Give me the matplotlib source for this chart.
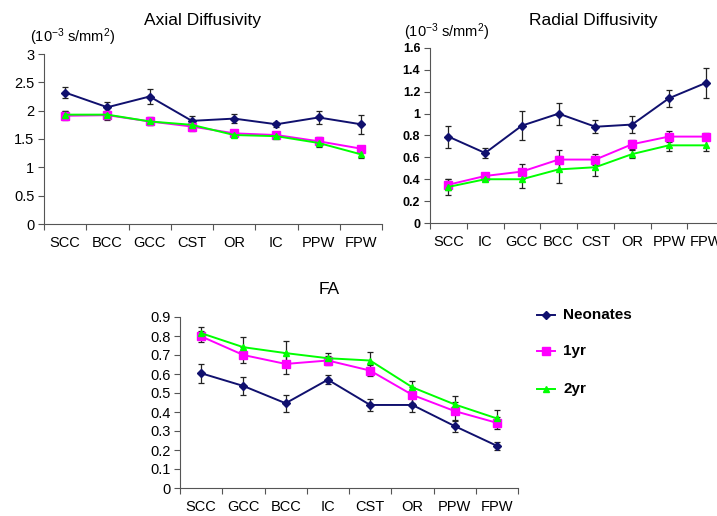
import matplotlib
matplotlib.use("Agg")
import matplotlib.pyplot as plt
import numpy as np

plt.rcParams['font.family'] = ['Liberation Sans', 'DejaVu Sans']
plt.rcParams['mathtext.fontset'] = 'custom'
plt.rcParams['mathtext.rm'] = 'Liberation Sans'
plt.rcParams['mathtext.it'] = 'Liberation Sans'

SERIES = ["Neonates", "1yr", "2yr"]
COLORS = ["#10106e", "#ff00ff", "#00ff00"]
MARKERS = ["D", "s", "^"]
MSIZES = [4, 6, 4]

# Axial diffusivity
ad_labels = ["SCC", "BCC", "GCC", "CST", "OR", "IC", "PPW", "FPW"]
ad_neo = [2.32, 2.06, 2.25, 1.82, 1.86, 1.76, 1.88, 1.76]
ad_neo_err = [0.10, 0.10, 0.13, 0.08, 0.08, 0.04, 0.12, 0.17]
ad_1yr = [1.91, 1.92, 1.81, 1.72, 1.60, 1.57, 1.46, 1.33]
ad_1yr_err = [0.08, 0.08, 0.07, 0.07, 0.04, 0.03, 0.08, 0.05]
ad_2yr = [1.93, 1.93, 1.81, 1.75, 1.57, 1.55, 1.43, 1.23]
ad_2yr_err = [0.07, 0.06, 0.06, 0.06, 0.04, 0.03, 0.07, 0.07]

# Radial diffusivity
rd_labels = ["SCC", "IC", "GCC", "BCC", "CST", "OR", "PPW", "FPW"]
rd_neo = [0.79, 0.64, 0.89, 1.00, 0.88, 0.90, 1.14, 1.28]
rd_neo_err = [0.10, 0.05, 0.13, 0.10, 0.06, 0.08, 0.08, 0.14]
rd_1yr = [0.35, 0.43, 0.47, 0.58, 0.58, 0.72, 0.79, 0.79]
rd_1yr_err = [0.05, 0.03, 0.07, 0.09, 0.05, 0.04, 0.05, 0.03]
rd_2yr = [0.33, 0.40, 0.40, 0.49, 0.51, 0.63, 0.71, 0.71]
rd_2yr_err = [0.07, 0.02, 0.08, 0.12, 0.08, 0.04, 0.05, 0.05]

# FA
fa_labels = ["SCC", "GCC", "BCC", "IC", "CST", "OR", "PPW", "FPW"]
fa_neo = [0.604, 0.537, 0.446, 0.570, 0.437, 0.437, 0.326, 0.222]
fa_neo_err = [0.05, 0.045, 0.045, 0.025, 0.03, 0.035, 0.03, 0.02]
fa_1yr = [0.798, 0.700, 0.653, 0.671, 0.618, 0.490, 0.405, 0.343]
fa_1yr_err = [0.03, 0.04, 0.055, 0.025, 0.03, 0.04, 0.05, 0.03]
fa_2yr = [0.815, 0.741, 0.710, 0.683, 0.671, 0.530, 0.440, 0.366]
fa_2yr_err = [0.03, 0.055, 0.065, 0.03, 0.045, 0.035, 0.045, 0.045]

W, H = 717, 516
fig = plt.figure(figsize=(W / 100, H / 100), dpi=100)


def px_axes(left, top, right, bottom):
    return fig.add_axes([left / W, 1 - bottom / H, (right - left) / W, (bottom - top) / H])


def draw_panel(ax, labels, data, errs, ymax, ystep, title, title_xy, unit_xy=None):
    x = np.arange(len(labels)) + 0.5
    for vals, err, col, mk, ms in zip(data, errs, COLORS, MARKERS, MSIZES):
        ax.errorbar(x, vals, yerr=err, fmt="none", ecolor="#222222",
                    elinewidth=0.9, capsize=2.5, capthick=0.9)
        ax.plot(x, vals, color=col, marker=mk, markersize=ms, lw=1.4, zorder=5)
    ax.set_xlim(0, len(labels))
    ax.set_ylim(0, ymax)
    ax.set_xticks(np.arange(len(labels) + 1))
    ax.set_xticklabels([])
    ax.set_xticks(x, minor=True)
    ax.set_xticklabels(labels, minor=True, fontsize=10.5)
    ax.tick_params(axis="x", which="major", length=4, color="#555555")
    ax.tick_params(axis="x", which="minor", length=0, pad=8.5)
    yt = np.arange(0, ymax + ystep / 2, ystep)
    ax.set_yticks(yt)
    ax.set_yticklabels(["{:g}".format(round(v, 2)) for v in yt], fontsize=10.5)
    ax.tick_params(axis="y", length=4, color="#555555", pad=3)
    for s in ["top", "right"]:
        ax.spines[s].set_visible(False)
    for s in ["left", "bottom"]:
        ax.spines[s].set_color("#555555")
    fig.text(title_xy[0] / W, 1 - title_xy[1] / H, title, ha="center", va="center", fontsize=12.5)
    if unit_xy is not None:
        fig.text(unit_xy[0] / W, 1 - unit_xy[1] / H, r"(10$^{-3}$ s/mm$^{2}$)",
                 ha="left", va="center", fontsize=10.5)


ax1 = px_axes(44, 54, 382, 224)
draw_panel(ax1, ad_labels, [ad_neo, ad_1yr, ad_2yr], [ad_neo_err, ad_1yr_err, ad_2yr_err],
           3, 0.5, "Axial Diffusivity", (203, 21), (30, 37))

ax2 = px_axes(430, 48, 724, 223)
draw_panel(ax2, rd_labels, [rd_neo, rd_1yr, rd_2yr], [rd_neo_err, rd_1yr_err, rd_2yr_err],
           1.6, 0.2, "Radial Diffusivity", (593, 20), (404, 32))
for t in ax2.get_yticklabels():
    t.set_fontsize(9)
    t.set_fontweight("bold")

ax3 = px_axes(180, 317, 518, 488)
draw_panel(ax3, fa_labels, [fa_neo, fa_1yr, fa_2yr], [fa_neo_err, fa_1yr_err, fa_2yr_err],
           0.9, 0.1, "FA", (329, 289))

# legend drawn by hand in pixel space
leg_y = [315, 351, 389]
for name, col, mk, ms, yy in zip(SERIES, COLORS, MARKERS, MSIZES, leg_y):
    fig.add_artist(plt.Line2D([537 / W, 555 / W], [1 - yy / H] * 2, color=col, lw=1.4))
    fig.add_artist(plt.Line2D([546 / W], [1 - yy / H], color=col, marker=mk, markersize=ms))
    fig.text(563 / W, 1 - yy / H, name, ha="left", va="center", fontsize=11, fontweight="bold")

fig.savefig("out.png", dpi=100)
